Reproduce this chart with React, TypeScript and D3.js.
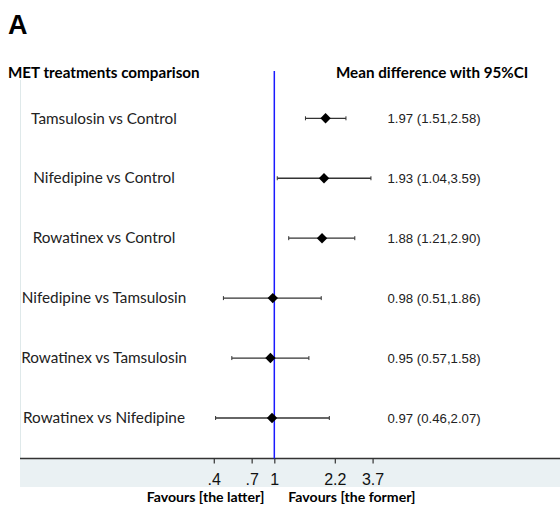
import React, { useRef, useEffect } from 'react';
import * as d3 from 'd3';

const comparisons = [
  'Tamsulosin vs Control',
  'Nifedipine vs Control',
  'Rowatinex vs Control',
  'Nifedipine vs Tamsulosin',
  'Rowatinex vs Tamsulosin',
  'Rowatinex vs Nifedipine',
];
const estimates = [1.97, 1.93, 1.88, 0.98, 0.95, 0.97];
const lower = [1.51, 1.04, 1.21, 0.51, 0.57, 0.46];
const upper = [2.58, 3.59, 2.9, 1.86, 1.58, 2.07];

// ticks sit at ln = -0.8, -0.3, 0, 0.8, 1.3 and are labelled rounded
const tickValues = [0.449, 0.741, 1, 2.226, 3.669];
const tickLabels = ['.4', '.7', '1', '2.2', '3.7'];

const W = 560;
const H = 506;
const calibri = 'Lato, "Open Sans", sans-serif';
const arial = '"Liberation Sans", Arial, sans-serif';

const App = () => {
  const svgRef = useRef<SVGSVGElement>(null);

  useEffect(() => {
    const svg = d3.select(svgRef.current);
    svg.selectAll('*').remove();

    const plotLeft = 20;
    const axisY = 458.5;

    const x = d3
      .scaleLog()
      .domain([Math.exp(-3.364), Math.exp(3.779)])
      .range([plotLeft, W]);

    const y = d3.scalePoint<string>().domain(comparisons).range([118.3, 418]);

    // bottom band behind the axis
    svg
      .append('rect')
      .attr('x', plotLeft)
      .attr('y', axisY)
      .attr('width', W - plotLeft)
      .attr('height', 487 - axisY)
      .attr('fill', '#eaf1f3');

    // faint left border of the plot
    svg
      .append('line')
      .attr('x1', plotLeft + 0.5)
      .attr('x2', plotLeft + 0.5)
      .attr('y1', 80)
      .attr('y2', axisY)
      .attr('stroke', '#dfe9ea')
      .attr('stroke-width', 1);

    // axis
    const xAxis = d3
      .axisBottom(x)
      .tickValues(tickValues)
      .tickSize(5)
      .tickFormat((d, i) => tickLabels[i]);

    const axisG = svg
      .append('g')
      .attr('transform', `translate(0,${axisY})`)
      .call(xAxis);
    axisG.select('.domain').attr('stroke', '#333').attr('stroke-width', 1.5).attr('d', `M${plotLeft},0H${W}`);
    axisG.selectAll('line').attr('stroke', '#333').attr('stroke-width', 1.2);
    axisG
      .selectAll('text')
      .attr('font-family', arial)
      .attr('font-size', 16)
      .attr('fill', '#111')
      .attr('dy', 0)
      .attr('y', 26.5);

    // reference line at 1
    svg
      .append('line')
      .attr('x1', x(1))
      .attr('x2', x(1))
      .attr('y1', 71)
      .attr('y2', axisY)
      .attr('stroke', '#1a1aff')
      .attr('stroke-width', 1.5);

    const rows = comparisons.map((c, i) => ({
      label: c,
      est: estimates[i],
      lo: lower[i],
      hi: upper[i],
    }));

    const g = svg.append('g');
    const row = g
      .selectAll('.row')
      .data(rows)
      .enter()
      .append('g')
      .attr('transform', (d) => `translate(0,${y(d.label)})`);

    row
      .append('line')
      .attr('x1', (d) => x(d.lo))
      .attr('x2', (d) => x(d.hi))
      .attr('stroke', '#333')
      .attr('stroke-width', 1.3);

    row
      .selectAll('.cap')
      .data((d) => [d.lo, d.hi])
      .enter()
      .append('line')
      .attr('x1', (v) => x(v))
      .attr('x2', (v) => x(v))
      .attr('y1', -2)
      .attr('y2', 2)
      .attr('stroke', '#333')
      .attr('stroke-width', 1);

    row
      .append('path')
      .attr('d', d3.symbol(d3.symbolSquare, 54)())
      .attr('transform', (d) => `translate(${x(d.est)},0) rotate(45)`)
      .attr('fill', '#000');

    row
      .append('text')
      .attr('x', 104)
      .attr('y', 5.2)
      .attr('text-anchor', 'middle')
      .attr('font-family', calibri)
      .attr('font-size', 15.3)
      .attr('fill', '#222')
      .text((d) => d.label);

    row
      .append('text')
      .attr('x', 387.5)
      .attr('y', 4.8)
      .attr('font-family', arial)
      .attr('font-size', 13.2)
      .attr('fill', '#222')
      .text((d) => `${d.est.toFixed(2)} (${d.lo.toFixed(2)},${d.hi.toFixed(2)})`);

    // headers
    svg
      .append('text')
      .attr('x', 8)
      .attr('y', 34)
      .attr('font-family', arial)
      .attr('font-weight', 'bold')
      .attr('font-size', 27)
      .text('A');

    svg
      .append('text')
      .attr('x', 8)
      .attr('y', 78)
      .attr('font-family', calibri)
      .attr('font-weight', 'bold')
      .attr('font-size', 15.2)
      .text('MET treatments comparison');

    svg
      .append('text')
      .attr('x', 336)
      .attr('y', 78)
      .attr('font-family', calibri)
      .attr('font-weight', 'bold')
      .attr('font-size', 15.2)
      .text('Mean difference with 95%CI');

    svg
      .append('text')
      .attr('x', x(1) - 10)
      .attr('y', 502)
      .attr('text-anchor', 'end')
      .attr('font-family', calibri)
      .attr('font-weight', 'bold')
      .attr('font-size', 14.1)
      .text('Favours [the latter]');

    svg
      .append('text')
      .attr('x', x(1) + 14)
      .attr('y', 502)
      .attr('font-family', calibri)
      .attr('font-weight', 'bold')
      .attr('font-size', 14.1)
      .text('Favours [the former]');
  }, []);

  return (
    <svg
      ref={svgRef}
      width={W}
      height={H}
      style={{ position: 'absolute', left: 0, top: 0, background: '#fff' }}
    />
  );
};

export default App;
